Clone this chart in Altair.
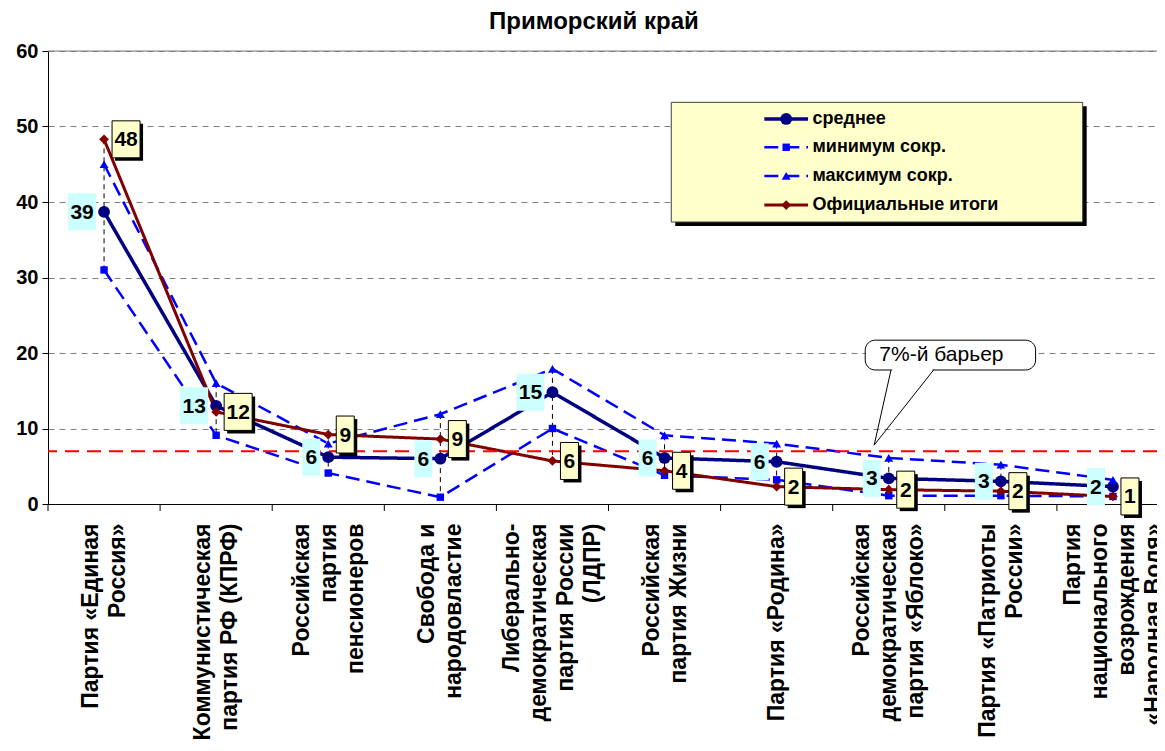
import json
import pandas as pd
import altair as alt

# ---------------- data ----------------
title_text = "Приморский край"
categories = [
    "Партия «Единая\nРоссия»",
    "Коммунистическая\nпартия РФ (КПРФ)",
    "Российская\nпартия\nпенсионеров",
    "Свобода и\nнародовластие",
    "Либерально-\nдемократическая\nпартия России\n(ЛДПР)",
    "Российская\nпартия Жизни",
    "Партия «Родина»",
    "Российская\nдемократическая\nпартия «Яблоко»",
    "Партия «Патриоты\nРоссии»",
    "Партия\nнационального\nвозрождения\n«Народная Воля»",
]
series_names = ["среднее", "минимум сокр.", "максимум сокр.", "Официальные итоги"]
avg_vals = [38.7, 13.0, 6.2, 6.0, 14.8, 6.1, 5.6, 3.4, 3.0, 2.3]
min_vals = [31.0, 9.1, 4.1, 0.9, 10.0, 3.8, 3.2, 1.1, 1.1, 1.0]
max_vals = [45.0, 16.0, 8.0, 11.9, 17.9, 9.1, 8.0, 6.1, 5.2, 3.2]
official_vals = [48.3, 12.2, 9.2, 8.6, 5.7, 4.4, 2.3, 1.9, 1.7, 1.0]
barrier_value = 7
barrier_text = "7%-й барьер"
y_ticks = [0, 10, 20, 30, 40, 50, 60]

# ---------------- styles ----------------
FONT = "Liberation Sans"
colors = ["#000080", "#0000FF", "#0000FF", "#800000"]
dashes = [[1, 0], [14, 7], [14, 7], [1, 0]]
widths = [3.5, 2.5, 2.5, 3]
shapes = ["circle", "square", "triangle-up", "diamond"]
sizes = [140, 55, 80, 95]
LINE_H = 27
PLOT_W = 1109

rows = []
for s, vals in zip(series_names, [avg_vals, min_vals, max_vals, official_vals]):
    for i, v in enumerate(vals):
        rows.append({"idx": i, "series": s, "value": v})
df = pd.DataFrame(rows)

xscale = alt.Scale(domain=[-0.5, -0.5 + PLOT_W / 112.1], nice=False, zero=False)
yscale = alt.Scale(domain=[0, 60], nice=False, zero=False)

# centre multi-line labels on their category
n_lines = [c.count("\n") + 1 for c in categories]
offset_conditions = []
for n in sorted(set(n_lines)):
    if n == 2:
        continue
    idxs = [i for i, k in enumerate(n_lines) if k == n]
    test = " || ".join(f"datum.value == {i}" for i in idxs)
    offset_conditions.append({"test": test, "value": -(n - 1) * LINE_H / 2})
label_offset = {"condition": offset_conditions, "value": -LINE_H / 2}

label_names = json.dumps([c.replace("\n", "|") for c in categories], ensure_ascii=False)
x_axis = alt.Axis(
    orient="bottom",
    values=list(range(len(categories))),
    labelExpr="split(" + label_names + "[datum.value], '|')",
    ticks=False, tickSize=0, domain=True, domainColor="black", domainWidth=1,
    grid=False, title=None,
    labelAngle=270, labelAlign="right", labelBaseline="middle",
    labelFont=FONT, labelFontSize=23, labelFontWeight="bold", labelColor="black",
    labelPadding=19, labelLineHeight=LINE_H, labelLimit=0,
    labelOverlap=False, labelFlush=False, labelOffset=label_offset,
)
y_axis = alt.Axis(
    orient="left",
    values=y_ticks, grid=True, gridDash=[6, 5], gridColor="#808080", gridWidth=1,
    tickSize=6, tickColor="black", domainColor="black", domainWidth=1,
    labelFont=FONT, labelFontSize=20, labelFontWeight="bold", labelColor="black",
    labelPadding=4, title=None,
)


def X(field):
    return alt.X(field, type="quantitative", scale=xscale, axis=x_axis)


def Y(field):
    return alt.Y(field, type="quantitative", scale=yscale, axis=y_axis)


color_enc = alt.Color("series:N", scale=alt.Scale(type="ordinal", domain=series_names, range=colors), legend=None)
dash_enc = alt.StrokeDash("series:N", scale=alt.Scale(type="ordinal", domain=series_names, range=dashes), legend=None)
width_enc = alt.StrokeWidth("series:N", scale=alt.Scale(type="ordinal", domain=series_names, range=widths), legend=None)
shape_enc = alt.Shape("series:N", scale=alt.Scale(type="ordinal", domain=series_names, range=shapes), legend=None)
size_enc = alt.Size("series:N", scale=alt.Scale(type="ordinal", domain=series_names, range=sizes), legend=None)

base = alt.Chart(df)

# category boundary ticks under the x axis
tick_df = pd.DataFrame({"b": [i - 0.5 for i in range(len(categories))], "y0": 0})
xticks = alt.Chart(tick_df).mark_rule(color="black", strokeWidth=1, y2Offset=7).encode(
    x=X("b"), y=Y("y0"), y2="y0:Q"
)

# high-low lines (max to min across all series)
hilo = base.mark_rule(color="black", strokeDash=[5, 4], strokeWidth=1).encode(
    x=X("idx"),
    y=Y("max(value)"),
    y2="min(value):Q",
)

top_line = alt.Chart(pd.DataFrame({"y": [y_ticks[-1]]})).mark_rule(
    color="#808080", strokeWidth=1
).encode(y=Y("y"))

lines = base.mark_line().encode(
    x=X("idx"), y=Y("value"),
    color=color_enc, strokeDash=dash_enc, strokeWidth=width_enc,
)
points = base.mark_point(filled=True, opacity=1).encode(
    x=X("idx"), y=Y("value"), color=color_enc, shape=shape_enc, size=size_enc,
)

barrier = alt.Chart(pd.DataFrame({"y": [barrier_value]})).mark_rule(
    color="#FF0000", strokeDash=[14, 8], strokeWidth=2
).encode(y=Y("y"))


def box_path(half_w):
    return f"M{-half_w},-1L{half_w},-1L{half_w},1L{-half_w},1Z"


def value_labels(series, fill, side, shadow):
    src = base.transform_filter(alt.datum.series == series).transform_calculate(
        lab="format(datum.value, '.0f')"
    )
    out = []
    for ndig, w in [(1, 18), (2, 28)]:
        h = 37
        off = side * (8 + w / 2)
        sub = src.transform_filter(f"length(datum.lab) == {ndig}")
        shape = box_path(round((w / 2) / (h / 2), 4))
        if shadow:
            out.append(sub.mark_point(shape=shape, size=h * h, filled=True, fill="black",
                                      opacity=1, strokeOpacity=0, xOffset=off + 3, yOffset=3)
                       .encode(x=X("idx"), y=Y("value")))
            out.append(sub.mark_point(shape=shape, size=h * h, filled=True, fill=fill,
                                      opacity=1, stroke="black", strokeWidth=1, strokeOpacity=1,
                                      xOffset=off)
                       .encode(x=X("idx"), y=Y("value")))
        else:
            out.append(sub.mark_point(shape=shape, size=h * h, filled=True, fill=fill,
                                      opacity=1, strokeOpacity=0, xOffset=off)
                       .encode(x=X("idx"), y=Y("value")))
        out.append(sub.mark_text(font=FONT, fontSize=21, fontWeight="bold", color="black",
                                 align="center", baseline="middle", dx=off, dy=1)
                   .encode(x=X("idx"), y=Y("value"), text="lab:N"))
    return out


avg_labels = value_labels(series_names[0], "#CCFFFF", -1, False)
off_labels = value_labels(series_names[3], "#FFFFCC", 1, True)

# callout "7%-й барьер"
callout_box = pd.DataFrame({"x1": [6.79], "x2": [8.31], "y1": [17.75], "y2": [21.7]})
callout_rect = alt.Chart(callout_box).mark_rect(
    fill="white", stroke="black", strokeWidth=1, cornerRadius=10
).encode(x=X("x1"), x2="x2:Q", y=Y("y1"), y2="y2:Q")
pointer_df = pd.DataFrame({"x": [7.02, 6.87, 7.40], "y": [17.75, 7.8, 17.75], "o": [0, 1, 2]})
pointer_cover = alt.Chart(pd.DataFrame({"x1": [7.03], "x2": [7.39], "y": [17.75]})).mark_rule(
    color="white", strokeWidth=3
).encode(x=X("x1"), x2="x2:Q", y=Y("y"))
pointer = alt.Chart(pointer_df).mark_line(color="black", strokeWidth=1).encode(
    x=X("x"), y=Y("y"), order="o:Q"
)
callout_text = alt.Chart(pd.DataFrame({"x": [7.47], "y": [19.7], "t": [barrier_text]})).mark_text(
    font=FONT, fontSize=21, color="black", align="center", baseline="middle"
).encode(x=X("x"), y=Y("y"), text="t:N")

# chart title
title_mark = alt.Chart(pd.DataFrame({"x": [4.37], "y": [62.9], "t": [title_text]})).mark_text(
    font=FONT, fontSize=24, fontWeight="bold", color="black", align="center", baseline="alphabetic"
).encode(x=X("x"), y=Y("y"), text="t:N")

# legend
legend_box = pd.DataFrame({"x1": [5.06], "x2": [8.73], "y1": [37.35], "y2": [53.2]})
legend_shadow = alt.Chart(legend_box).mark_rect(
    fill="black", xOffset=4, x2Offset=4, yOffset=4, y2Offset=4
).encode(x=X("x1"), x2="x2:Q", y=Y("y1"), y2="y2:Q")
legend_rect = alt.Chart(legend_box).mark_rect(
    fill="#FFFFCC", stroke="#404040", strokeWidth=1
).encode(x=X("x1"), x2="x2:Q", y=Y("y1"), y2="y2:Q")
leg_df = pd.DataFrame({
    "series": series_names,
    "ly": [51.0, 47.25, 43.45, 39.6],
})
leg_df["lx1"] = 5.89
leg_df["lx2"] = 6.28
leg_df["lxm"] = 6.085
leg_df["lxt"] = 6.32
leg = alt.Chart(leg_df)
legend_lines = leg.mark_rule().encode(
    x=X("lx1"), x2="lx2:Q", y=Y("ly"),
    color=color_enc, strokeDash=dash_enc, strokeWidth=width_enc,
)
legend_points = leg.mark_point(filled=True, opacity=1).encode(
    x=X("lxm"), y=Y("ly"), color=color_enc, shape=shape_enc, size=size_enc,
)
legend_text = leg.mark_text(
    font=FONT, fontSize=18, fontWeight="bold", color="black", align="left", baseline="middle"
).encode(x=X("lxt"), y=Y("ly"), text="series:N")

chart = alt.layer(
    lines, hilo, top_line, xticks, points, barrier,
    *avg_labels, *off_labels,
    callout_rect, pointer_cover, pointer, callout_text, title_mark,
    legend_shadow, legend_rect, legend_lines, legend_points, legend_text,
).properties(
    width=PLOT_W,
    height=453,
    autosize=alt.AutoSizeParams(type="none"),
    padding={"left": 40, "top": 43, "right": 0, "bottom": 239},
).configure_view(stroke=None).configure(background="white")

chart.save("out.html", embed_options={"renderer": "svg", "actions": False})
